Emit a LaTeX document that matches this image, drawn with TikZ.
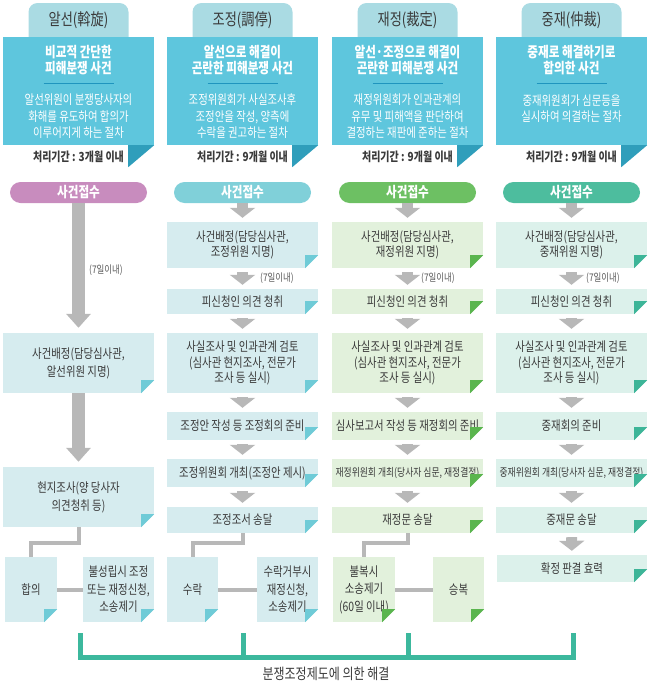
\documentclass[tikz,border=0pt]{standalone}
\usepackage{fontspec}
\setmainfont{Noto Sans CJK KR}[FakeStretch=0.8]
\usetikzlibrary{arrows.meta}
\definecolor{tabc}{HTML}{AADBE3}
\definecolor{hdrc}{HTML}{5EC6DD}
\definecolor{hdrdark}{HTML}{2F9EBB}
\definecolor{rulec}{HTML}{1F95BE}
\definecolor{pillA}{HTML}{C88CBE}
\definecolor{pillB}{HTML}{80D0D9}
\definecolor{pillC}{HTML}{6DC063}
\definecolor{pillD}{HTML}{4DBD9E}
\definecolor{boxB}{HTML}{D6ECEF}
\definecolor{boxC}{HTML}{E2F1DC}
\definecolor{boxD}{HTML}{DCF1EB}
\definecolor{flapB}{HTML}{6FCBD7}
\definecolor{flapC}{HTML}{5AB54E}
\definecolor{flapD}{HTML}{3DB598}
\definecolor{greyc}{HTML}{B8B8B8}
\definecolor{txtc}{HTML}{3A3A3A}
\definecolor{brk}{HTML}{3CB89D}
\newcommand\fsz[2]{\fontsize{#1}{#2}\selectfont}
\newcommand\dogear[2]{%
  \fill[white] (#1.south east) -- ++(-13,0) -- ++(13,13) -- cycle;
  \fill[#2] ([shift={(-13,13)}]#1.south east) -- ++(13,0) -- ++(-13,-13) -- cycle;}
\newcommand\tabshape[1]{%
  \fill[tabc] ({#1-50},-37) -- ({#1-50},-12) arc (180:90:9) -- ({#1+41},-3) arc (90:0:9) -- ({#1+50},-37) -- cycle;}
\begin{document}
\begin{tikzpicture}[x=1pt,y=1pt,
  tabtext/.style={text=txtc, font=\fsz{16.5}{19}},
  hdrbox/.style={fill=hdrc, minimum width=151pt, minimum height=108pt, inner sep=0pt},
  hdrtitle/.style={text=white, font=\bfseries\fsz{14.5}{16.5}, align=center, inner sep=0pt},
  hdrdesc/.style={text=white, font=\fsz{13}{16.5}, align=center, inner sep=0pt},
  periodtxt/.style={text=txtc, font=\bfseries\fsz{12.5}{14}, inner sep=0pt},
  pillbox/.style={rounded corners=10.5pt, minimum width=137pt, minimum height=21pt, inner sep=0pt, text=white, font=\bfseries\fsz{14.5}{16}},
  flowbox/.style={fill=#1, minimum width=151pt, inner sep=0pt, align=center, text=txtc, font=\fsz{13}{15.5}},
  lowbox/.style={flowbox=#1, minimum height=65pt, font=\fsz{13}{17.5}},
  garrow/.style={draw=greyc, line width=11pt, -{Triangle[width=25pt,length=10pt]}, shorten <=4pt, shorten >=4pt},
  bigarrow/.style={draw=greyc, line width=13pt, -{Triangle[width=24pt,length=14pt]}, shorten >=5pt},
  joinline/.style={draw=greyc, line width=4pt},
  daynote/.style={text=txtc!85, font=\fsz{10.5}{12}, inner sep=0pt},
  brkline/.style={draw=brk, line width=5pt}]
\useasboundingbox (0,0) rectangle (651,-688);

% ---------- headers ----------
\tabshape{78.5}
\node[tabtext] (tab1) at (78.5,-20) {알선(斡旋)};
\node[hdrbox] (hb1) at (78.5,-91) {};
\node[hdrtitle] (ht1) at (78.5,-60) {비교적 간단한\\피해분쟁 사건};
\draw[rulec, line width=1pt] (43.5,-83) -- (113.5,-83);
\node[hdrdesc] (hd1) at (78.5,-116.5) {알선위원이 분쟁당사자의\\화해를 유도하여 합의가\\이루어지게 하는 절차};
\fill[hdrdark] (hb1.south east) -- ++(-26,0) -- ++(0,-22) -- cycle;
\node[periodtxt] (pt1) at (78.5,-157) {처리기간 : 3개월 이내};

\tabshape{242.5}
\node[tabtext] (tab2) at (242.5,-20) {조정(調停)};
\node[hdrbox] (hb2) at (242.5,-91) {};
\node[hdrtitle] (ht2) at (242.5,-60) {알선으로 해결이\\곤란한 피해분쟁 사건};
\draw[rulec, line width=1pt] (207.5,-83) -- (277.5,-83);
\node[hdrdesc] (hd2) at (242.5,-116.5) {조정위원회가 사실조사후\\조정안을 작성, 양측에\\수락을 권고하는 절차};
\fill[hdrdark] (hb2.south east) -- ++(-26,0) -- ++(0,-22) -- cycle;
\node[periodtxt] (pt2) at (242.5,-157) {처리기간 : 9개월 이내};

\tabshape{407.5}
\node[tabtext] (tab3) at (407.5,-20) {재정(裁定)};
\node[hdrbox] (hb3) at (407.5,-91) {};
\node[hdrtitle] (ht3) at (407.5,-60) {알선·조정으로 해결이\\곤란한 피해분쟁 사건};
\draw[rulec, line width=1pt] (372.5,-83) -- (442.5,-83);
\node[hdrdesc] (hd3) at (407.5,-116.5) {재정위원회가 인과관계의\\유무 및 피해액을 판단하여\\결정하는 재판에 준하는 절차};
\fill[hdrdark] (hb3.south east) -- ++(-26,0) -- ++(0,-22) -- cycle;
\node[periodtxt] (pt3) at (407.5,-157) {처리기간 : 9개월 이내};

\tabshape{571.5}
\node[tabtext] (tab4) at (571.5,-20) {중재(仲裁)};
\node[hdrbox] (hb4) at (571.5,-91) {};
\node[hdrtitle] (ht4) at (571.5,-60) {중재로 해결하기로\\합의한 사건};
\draw[rulec, line width=1pt] (536.5,-83) -- (606.5,-83);
\node[hdrdesc] (hd4) at (571.5,-108.5) {중재위원회가 심문등을\\실시하여 의결하는 절차};
\fill[hdrdark] (hb4.south east) -- ++(-26,0) -- ++(0,-22) -- cycle;
\node[periodtxt] (pt4) at (571.5,-157) {처리기간 : 9개월 이내};

% ---------- column 1 ----------
\node[pillbox, fill=pillA] (p1) at (78.5,-192.5) {사건접수};
\node[flowbox=boxB, minimum height=60pt, font=\fsz{13}{18}] (a1) at (78.5,-363) {사건배정(담당심사관,\\알선위원 지명)};
\dogear{a1}{flapB}
\draw[bigarrow] (p1) -- (a1);
\node[daynote] (n1) at (106,-270) {(7일이내)};
\node[flowbox=boxB, minimum height=60pt, font=\fsz{13}{18}] (a2) at (78.5,-497) {현지조사(양 당사자\\의견청취 등)};
\dogear{a2}{flapB}
\draw[bigarrow] (a1) -- (a2);
\node[lowbox=boxB, minimum width=52pt] (a3) at (31,-589.5) {합의};
\dogear{a3}{flapB}
\node[lowbox=boxB, minimum width=71pt] (a4) at (118.5,-589.5) {불성립시 조정\\또는 재정신청,\\소송제기};
\dogear{a4}{flapB}
\draw[joinline] (a2.south) -- ++(0,-16) -| (a3.north);
\draw[joinline] (a3) -- (a4);

% ---------- column 2 ----------
\node[pillbox, fill=pillB] (p2) at (242.5,-192.5) {사건접수};
\node[flowbox=boxB, minimum height=46pt] (b1) at (242.5,-245) {사건배정(담당심사관,\\조정위원 지명)};
\node[flowbox=boxB, minimum height=25pt] (b2) at (242.5,-301.5) {피신청인 의견 청취};
\node[flowbox=boxB, minimum height=60pt] (b3) at (242.5,-363) {사실조사 및 인과관계 검토\\(심사관 현지조사, 전문가\\조사 등 실시)};
\node[flowbox=boxB, minimum height=28pt] (b4) at (242.5,-426) {조정안 작성 등 조정회의 준비};
\node[flowbox=boxB, minimum height=28pt] (b5) at (242.5,-473) {조정위원회 개최(조정안 제시)};
\node[flowbox=boxB, minimum height=26pt] (b6) at (242.5,-520) {조정조서 송달};
\node[lowbox=boxB, minimum width=51pt] (b7) at (192.5,-589.5) {수락};
\node[lowbox=boxB, minimum width=61pt] (b8) at (287.5,-589.5) {수락거부시\\재정신청,\\소송제기};
\foreach \n in {b1,b2,b3,b4,b5,b6,b7,b8} {\dogear{\n}{flapB}}
\draw[garrow, shorten <=0pt] (p2) -- (b1);
\draw[garrow] (b1) -- (b2);
\draw[garrow] (b2) -- (b3);
\draw[garrow] (b3) -- (b4);
\draw[garrow] (b4) -- (b5);
\draw[garrow] (b5) -- (b6);
\node[daynote] (n2) at (277,-278) {(7일이내)};
\draw[joinline] (b6.south) -- ++(0,-10) -| (b7.north);
\draw[joinline] (b7) -- (b8);

% ---------- column 3 ----------
\node[pillbox, fill=pillC] (p3) at (407.5,-192.5) {사건접수};
\node[flowbox=boxC, minimum height=46pt] (c1) at (407.5,-245) {사건배정(담당심사관,\\재정위원 지명)};
\node[flowbox=boxC, minimum height=25pt] (c2) at (407.5,-301.5) {피신청인 의견 청취};
\node[flowbox=boxC, minimum height=60pt] (c3) at (407.5,-363) {사실조사 및 인과관계 검토\\(심사관 현지조사, 전문가\\조사 등 실시)};
\node[flowbox=boxC, minimum height=28pt] (c4) at (407.5,-426) {심사보고서 작성 등 재정회의 준비};
\node[flowbox=boxC, minimum height=28pt, font=\fsz{11}{12}] (c5) at (407.5,-473) {재정위원회 개최(당사자 심문, 재정결정)};
\node[flowbox=boxC, minimum height=26pt] (c6) at (407.5,-520) {재정문 송달};
\node[lowbox=boxC, minimum width=62pt] (c7) at (364,-589.5) {불복시\\소송제기\\(60일 이내)};
\node[lowbox=boxC, minimum width=51pt] (c8) at (458.5,-589.5) {승복};
\foreach \n in {c1,c2,c3,c4,c5,c6,c7,c8} {\dogear{\n}{flapC}}
\draw[garrow, shorten <=0pt] (p3) -- (c1);
\draw[garrow] (c1) -- (c2);
\draw[garrow] (c2) -- (c3);
\draw[garrow] (c3) -- (c4);
\draw[garrow] (c4) -- (c5);
\draw[garrow] (c5) -- (c6);
\node[daynote] (n3) at (438,-278) {(7일이내)};
\draw[joinline] (c6.south) -- ++(0,-10) -| (c7.north);
\draw[joinline] (c7) -- (c8);

% ---------- column 4 ----------
\node[pillbox, fill=pillD] (p4) at (571.5,-192.5) {사건접수};
\node[flowbox=boxD, minimum height=46pt] (d1) at (571.5,-245) {사건배정(담당심사관,\\중재위원 지명)};
\node[flowbox=boxD, minimum height=25pt] (d2) at (571.5,-301.5) {피신청인 의견 청취};
\node[flowbox=boxD, minimum height=60pt] (d3) at (571.5,-363) {사실조사 및 인과관계 검토\\(심사관 현지조사, 전문가\\조사 등 실시)};
\node[flowbox=boxD, minimum height=28pt] (d4) at (571.5,-426) {중재회의 준비};
\node[flowbox=boxD, minimum height=28pt, font=\fsz{11}{12}] (d5) at (571.5,-473) {중재위원회 개최(당사자 심문, 재정결정)};
\node[flowbox=boxD, minimum height=26pt] (d6) at (571.5,-520) {중재문 송달};
\node[flowbox=boxD, minimum width=150pt, minimum height=27pt] (d7) at (572,-568.5) {확정 판결 효력};
\foreach \n in {d1,d2,d3,d4,d5,d6,d7} {\dogear{\n}{flapD}}
\draw[garrow, shorten <=0pt] (p4) -- (d1);
\draw[garrow] (d1) -- (d2);
\draw[garrow] (d2) -- (d3);
\draw[garrow] (d3) -- (d4);
\draw[garrow] (d4) -- (d5);
\draw[garrow] (d5) -- (d6);
\draw[garrow] (d6) -- (d7);
\node[daynote] (n4) at (603,-278) {(7일이내)};

% ---------- bracket ----------
\coordinate (k1) at (80,-633);
\coordinate (k2) at (243,-633);
\coordinate (k3) at (408,-633);
\coordinate (k4) at (573,-633);
\coordinate (base) at (0,-657);
\coordinate (base2) at (0,-659.5);
\draw[brkline] (k1) -- (k1 |- base) -- (k4 |- base) -- (k4);
\draw[brkline] (k2) -- (k2 |- base2);
\draw[brkline] (k3) -- (k3 |- base2);
\node[text=txtc, font=\fsz{15}{17}] (res) at (326,-674) {분쟁조정제도에 의한 해결};
\end{tikzpicture}
\end{document}
